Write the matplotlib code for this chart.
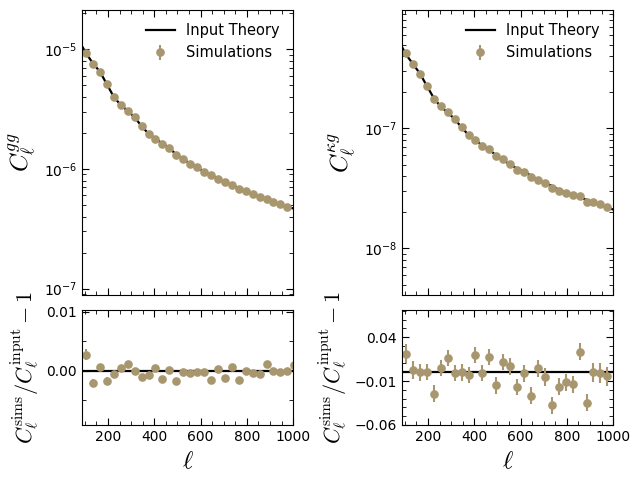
import numpy as np
import matplotlib
matplotlib.use('Agg')
import matplotlib.pyplot as plt
from matplotlib.ticker import MultipleLocator

plt.rcParams['mathtext.fontset'] = 'cm'

# binned multipoles (bin width 30)
ell = [105, 135, 165, 195, 225, 255, 285, 315, 345, 375,
       405, 435, 465, 495, 525, 555, 585, 615, 645, 675,
       705, 735, 765, 795, 825, 855, 885, 915, 945, 975]
# one extra bin shows up at the edge of the gg ratio panel
ell_ratio_gg = ell + [1005]

# theory curves, incl. the plot edges
ell_th = [87] + ell + [1000]
cl_gg_th = [1.066e-5,
            9.26e-6, 7.63e-6, 6.5e-6, 5.1e-6, 4.0e-6, 3.42e-6, 3.06e-6, 2.70e-6, 2.28e-6, 1.97e-6,
            1.79e-6, 1.63e-6, 1.49e-6, 1.32e-6, 1.20e-6, 1.11e-6, 1.035e-6, 9.45e-7, 8.83e-7, 8.26e-7,
            7.76e-7, 7.32e-7, 6.87e-7, 6.48e-7, 6.15e-7, 5.85e-7, 5.56e-7, 5.31e-7, 5.07e-7, 4.82e-7,
            4.68e-7]
cl_kg_th = [4.79e-7,
            4.13e-7, 3.44e-7, 2.87e-7, 2.26e-7, 1.79e-7, 1.52e-7, 1.36e-7, 1.20e-7, 1.02e-7, 8.83e-8,
            7.93e-8, 7.22e-8, 6.62e-8, 5.97e-8, 5.46e-8, 4.98e-8, 4.63e-8, 4.36e-8, 4.06e-8, 3.71e-8,
            3.50e-8, 3.33e-8, 3.09e-8, 2.92e-8, 2.81e-8, 2.65e-8, 2.55e-8, 2.42e-8, 2.33e-8, 2.21e-8,
            2.11e-8]

# fractional residuals sims/input - 1 and their errors
ratio_gg = [0.0027, -0.0021, 0.0006, -0.0017, -0.0006, 0.0004, 0.0012, 0.0, -0.0011, -0.0008,
            0.00045, -0.0014, 0.0001, -0.0017, -0.0002, -0.00045, -0.0003, -0.0003, -0.0015, 0.0003,
            -0.0012, 0.0007, -0.0016, 0.0, -0.00045, -0.0006, 0.0012, -0.0001, -0.0002, -0.0001,
            0.001]
err_gg = [0.0009, 0.0007, 0.0006, 0.0006, 0.0005, 0.0005, 0.0005, 0.0004, 0.0004, 0.0004,
          0.0004, 0.0004, 0.0004, 0.0004, 0.0004, 0.0004, 0.0004, 0.0004, 0.0004, 0.0004,
          0.0004, 0.0004, 0.0004, 0.0004, 0.0004, 0.0004, 0.0004, 0.0004, 0.0004, 0.0004,
          0.0004]
ratio_kg = [0.0212, 0.0023, 0.0, 0.0004, -0.0246, 0.005, 0.0162, -0.0008, 0.0, -0.0031,
            0.0196, -0.0008, 0.0173, -0.015, 0.0119, 0.0069, -0.0169, -0.0012, -0.0269, 0.0046,
            -0.0054, -0.0377, -0.0165, -0.0115, -0.0138, 0.0235, -0.0346, 0.0, -0.0008, -0.0046]
err_kg = [0.0105, 0.01, 0.0095, 0.0095, 0.0095, 0.0095, 0.0095, 0.0095, 0.0095, 0.0095,
          0.0095, 0.0095, 0.0095, 0.0095, 0.0095, 0.0095, 0.0095, 0.0095, 0.0095, 0.0095,
          0.01, 0.01, 0.01, 0.01, 0.01, 0.01, 0.01, 0.011, 0.011, 0.011]

col = '#a8966e'

fig = plt.figure(figsize=(6.4, 4.8), dpi=100)

def style(ax):
    ax.tick_params(which='both', direction='in', top=True, right=True, labelsize=10)
    ax.tick_params(which='major', length=5)
    ax.tick_params(which='minor', length=3)

panels = [
    (0.128, cl_gg_th, ratio_gg, err_gg, ell_ratio_gg, r'$C_\ell^{gg}$', (8.8e-8, 2.13e-5), (-0.0092, 0.0103)),
    (0.628, cl_kg_th, ratio_kg, err_kg, ell, r'$C_\ell^{\kappa g}$', (4.08e-9, 9.7e-7), (-0.06, 0.071)),
]

for i, (x0, cl_th, ratio, err, ell_r, lab, ylim_top, ylim_bot) in enumerate(panels):
    th = np.array(cl_th)
    th_bins = th[1:-1]
    r = np.array(ratio[:len(ell)])
    e = np.array(err[:len(ell)])

    ax1 = fig.add_axes([x0, 0.385, 0.33, 0.594])
    ax1.plot(ell_th, th, color='k', lw=1.6, label='Input Theory', zorder=1)
    ax1.errorbar(ell, th_bins * (1 + r), yerr=th_bins * e, fmt='o', color=col, ms=5.2,
                 elinewidth=1.5, label='Simulations', zorder=2)
    ax1.set_yscale('log')
    ax1.set_xlim(87, 1000)
    ax1.set_ylim(*ylim_top)
    ax1.set_ylabel(lab, fontsize=18)
    ax1.xaxis.set_major_locator(MultipleLocator(200))
    ax1.xaxis.set_minor_locator(MultipleLocator(50))
    ax1.set_xticklabels([])
    style(ax1)
    ax1.legend(loc='upper right', frameon=False, fontsize=10.5)

    ax2 = fig.add_axes([x0, 0.115, 0.33, 0.239])
    ax2.axhline(0, color='k', lw=1.6, zorder=1)
    ax2.errorbar(ell_r, ratio, yerr=err, fmt='o', color=col, ms=5.2, elinewidth=1.5, zorder=2)
    ax2.set_xlim(87, 1000)
    ax2.set_ylim(*ylim_bot)
    ax2.xaxis.set_major_locator(MultipleLocator(200))
    ax2.xaxis.set_minor_locator(MultipleLocator(50))
    if i == 0:
        ax2.set_yticks([0.0, 0.01])
        ax2.yaxis.set_minor_locator(MultipleLocator(0.005))
        ax2.set_yticklabels(['0.00', '0.01'])
    else:
        ax2.set_yticks([-0.06, -0.01, 0.04])
        ax2.yaxis.set_minor_locator(MultipleLocator(0.01))
        ax2.set_yticklabels(['\u22120.06', '\u22120.01', '0.04'])
    ax2.set_xlabel(r'$\ell$', fontsize=18)
    ax2.set_ylabel(r'$C_\ell^{\rm sims}/C_\ell^{\rm input}-1$', fontsize=16)
    style(ax2)

fig.savefig('out.png', dpi=100)
